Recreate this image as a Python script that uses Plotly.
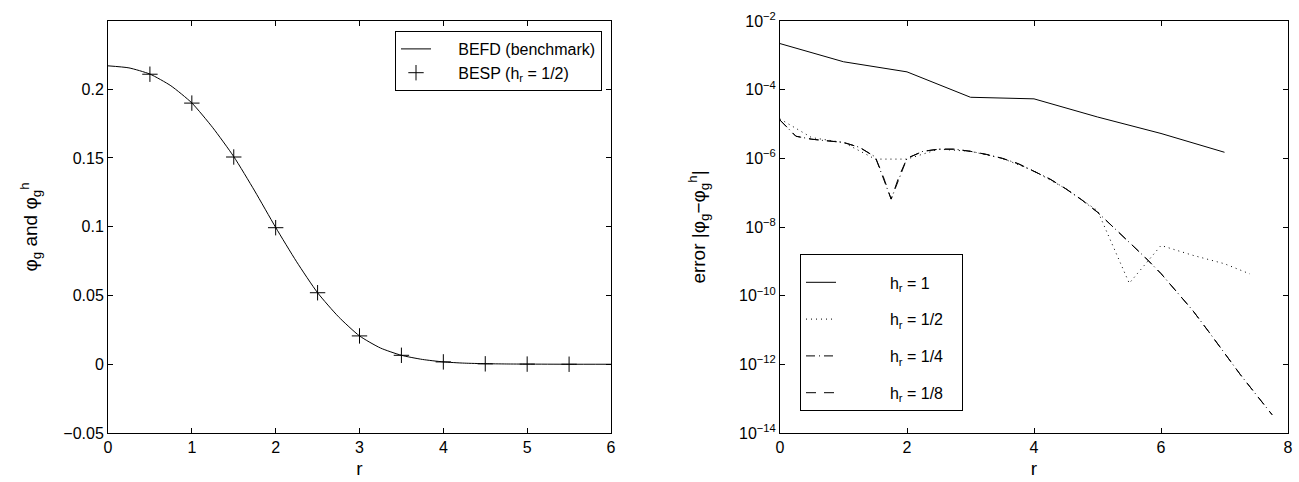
import plotly.graph_objects as go

# ---------------- Left panel data ----------------
r_bench = [0, 0.25, 0.5, 0.75, 1.0, 1.25, 1.5, 1.75, 2.0, 2.25, 2.5, 2.75, 3.0,
           3.25, 3.5, 3.75, 4.0, 4.25, 4.5, 4.75, 5.0, 5.5, 6.0]
phi_bench = [0.217, 0.2155, 0.211, 0.2025, 0.190, 0.172, 0.151, 0.126, 0.0995,
             0.0745, 0.052, 0.0345, 0.0206, 0.0118, 0.0065, 0.0035, 0.0017,
             0.0008, 0.0004, 0.0002, 0.0001, 0.0, 0.0]

r_besp = [0.5, 1.0, 1.5, 2.0, 2.5, 3.0, 3.5, 4.0, 4.5, 5.0, 5.5]
phi_besp = [0.2109, 0.1899, 0.1507, 0.0993, 0.052, 0.0206, 0.0065, 0.0017,
            0.0003, 0.0001, 0.0]

# ---------------- Right panel data ----------------
r_h1 = [0, 1, 2, 3, 4, 5, 6, 7]
err_h1 = [2.2e-3, 6.5e-4, 3.3e-4, 6.0e-5, 5.4e-5, 1.6e-5, 5.3e-6, 1.5e-6]

r_h2 = [0, 0.5, 1.0, 1.5, 2.0, 2.5, 3.0, 3.5, 4.0, 4.5, 5.0, 5.5, 6.0, 6.5, 7.0, 7.4]
err_h2 = [1.4e-5, 4.0e-6, 2.9e-6, 9.5e-7, 9.5e-7, 1.85e-6, 1.6e-6, 1.0e-6,
          4.3e-7, 1.3e-7, 3.0e-8, 2.3e-10, 2.9e-9, 1.5e-9, 8.5e-10, 4.3e-10]

r_h4 = [0, 0.25, 0.5, 0.75, 1.0, 1.25, 1.5, 1.75, 2.0, 2.25, 2.5, 2.75, 3.0,
        3.25, 3.5, 3.75, 4.0, 4.25, 4.5, 4.75, 5.0, 5.25, 5.5, 5.75, 6.0,
        6.25, 6.5, 6.75, 7.0, 7.25, 7.5, 7.75]
err_h4 = [1.3e-5, 4.4e-6, 3.6e-6, 3.3e-6, 2.9e-6, 2.1e-6, 1.1e-6, 6.5e-8,
          1.0e-6, 1.6e-6, 1.85e-6, 1.85e-6, 1.6e-6, 1.3e-6, 1.0e-6, 7.0e-7,
          4.3e-7, 2.5e-7, 1.3e-7, 6.2e-8, 2.7e-8, 1.0e-8, 3.6e-9, 1.3e-9,
          4.4e-10, 1.3e-10, 3.7e-11, 9.0e-12, 2.1e-12, 5.0e-13, 1.3e-13, 3.4e-14]

r_h8 = [0, 0.25, 0.5, 0.75, 1.0, 1.25, 1.5, 1.625, 1.75, 1.875, 2.0, 2.25,
        2.5, 2.75, 3.0, 3.25, 3.5, 3.75, 4.0, 4.25, 4.5, 4.75, 5.0, 5.25, 5.5,
        5.75, 6.0, 6.25, 6.5, 6.75, 7.0, 7.25, 7.5, 7.75]
err_h8 = [1.3e-5, 4.4e-6, 3.6e-6, 3.3e-6, 2.9e-6, 2.1e-6, 1.1e-6, 3.0e-7,
          6.5e-8, 3.0e-7, 1.0e-6, 1.6e-6, 1.85e-6, 1.85e-6, 1.6e-6, 1.3e-6,
          1.0e-6, 7.0e-7, 4.3e-7, 2.5e-7, 1.3e-7, 6.2e-8, 2.7e-8, 1.0e-8,
          3.6e-9, 1.3e-9, 4.4e-10, 1.3e-10, 3.7e-11, 9.0e-12, 2.1e-12,
          5.0e-13, 1.3e-13, 3.4e-14]

left_yticks = [-0.05, 0, 0.05, 0.1, 0.15, 0.2]
left_yticklabels = ["\u22120.05", "0", "0.05", "0.1", "0.15", "0.2"]
left_xticks = [0, 1, 2, 3, 4, 5, 6]
right_xticks = [0, 2, 4, 6, 8]
right_yticks = [1e-14, 1e-12, 1e-10, 1e-8, 1e-6, 1e-4, 1e-2]
right_yticklabels = ["10<sup>\u221214</sup>", "10<sup>\u221212</sup>",
                     "10<sup>\u221210</sup>", "10<sup>\u22128</sup>",
                     "10<sup>\u22126</sup>", "10<sup>\u22124</sup>",
                     "10<sup>\u22122</sup>"]

FONT = "Liberation Sans, Arial, Helvetica, sans-serif"
FS = 16
W, H = 1299, 482
NB = "\u00a0"

fig = go.Figure()

fig.add_trace(go.Scatter(x=r_bench, y=phi_bench, mode="lines",
                         line=dict(color="black", width=1, shape="spline", smoothing=0.6),
                         name=NB * 5 + "BEFD (benchmark)", xaxis="x", yaxis="y",
                         legend="legend", legendgroup="a"))
fig.add_trace(go.Scatter(x=r_besp, y=phi_besp, mode="markers",
                         marker=dict(symbol="cross-thin-open", size=11,
                                     line=dict(color="black", width=1), color="black"),
                         name=NB * 5 + "BESP (h<sub>r</sub> = 1/2)", xaxis="x", yaxis="y",
                         legend="legend", legendgroup="b"))

fig.add_trace(go.Scatter(x=r_h1, y=err_h1, mode="lines",
                         line=dict(color="black", width=1),
                         name=NB * 11 + "h<sub>r</sub> = 1" + NB * 3, xaxis="x2", yaxis="y2",
                         legend="legend2", legendgroup="c"))
fig.add_trace(go.Scatter(x=r_h2, y=err_h2, mode="lines",
                         line=dict(color="black", width=1, dash="1px,4px"),
                         name=NB * 11 + "h<sub>r</sub> = 1/2" + NB * 3, xaxis="x2", yaxis="y2",
                         legend="legend2", legendgroup="d"))
fig.add_trace(go.Scatter(x=r_h4, y=err_h4, mode="lines",
                         line=dict(color="black", width=1, dash="9px,4px,1px,4px"),
                         name=NB * 11 + "h<sub>r</sub> = 1/4" + NB * 3, xaxis="x2", yaxis="y2",
                         legend="legend2", legendgroup="e"))
fig.add_trace(go.Scatter(x=r_h8, y=err_h8, mode="lines",
                         line=dict(color="black", width=1, dash="10px,8px"),
                         name=NB * 11 + "h<sub>r</sub> = 1/8" + NB * 3, xaxis="x2", yaxis="y2",
                         legend="legend2", legendgroup="f"))

ydom = [1 - 433 / H, 1 - 21 / H]
axcommon = dict(showline=True, linecolor="black", linewidth=1, mirror="ticks",
                ticks="inside", ticklen=5, tickcolor="black", showgrid=False,
                zeroline=False, automargin=False,
                tickfont=dict(family=FONT, size=FS, color="black"))

fig.update_layout(
    width=W, height=H,
    margin=dict(l=0, r=0, t=0, b=0, autoexpand=False),
    paper_bgcolor="white", plot_bgcolor="white",
    font=dict(family=FONT, size=FS, color="black"),
    xaxis=dict(domain=[108 / W, 611 / W], range=[0, 6], tickvals=left_xticks,
               anchor="y", title=dict(text="r", standoff=6), **axcommon),
    yaxis=dict(domain=ydom, range=[-0.05, 0.2496], tickvals=left_yticks,
               ticktext=left_yticklabels, anchor="x",
               title=dict(text="\u03c6<sub>g</sub> and \u03c6<sub>g</sub><sup>h</sup>", standoff=20),
               **axcommon),
    xaxis2=dict(domain=[780 / W, 1288 / W], range=[0, 8], tickvals=right_xticks,
                anchor="y2", title=dict(text="r", standoff=6), **axcommon),
    yaxis2=dict(domain=ydom, type="log", range=[-14, -2], tickvals=right_yticks,
                ticktext=right_yticklabels, anchor="x2",
                title=dict(text="error |\u03c6<sub>g</sub>\u2212\u03c6<sub>g</sub><sup>h</sup>|", standoff=28),
                **axcommon),
    legend=dict(x=602 / W, xanchor="right", y=1 - 31 / H, yanchor="top",
                bgcolor="white", bordercolor="black", borderwidth=1,
                font=dict(family=FONT, size=FS, color="black"),
                traceorder="grouped", tracegroupgap=0),
    legend2=dict(x=800 / W, xanchor="left", y=1 - 254 / H, yanchor="top",
                 bgcolor="white", bordercolor="black", borderwidth=1,
                 font=dict(family=FONT, size=FS, color="black"),
                 title=dict(text=" ", font=dict(size=8)),
                 traceorder="grouped", tracegroupgap=13),
    showlegend=True,
)

fig.write_html("out.html", config={"displayModeBar": False},
               post_script="document.body.style.margin='0px';")
